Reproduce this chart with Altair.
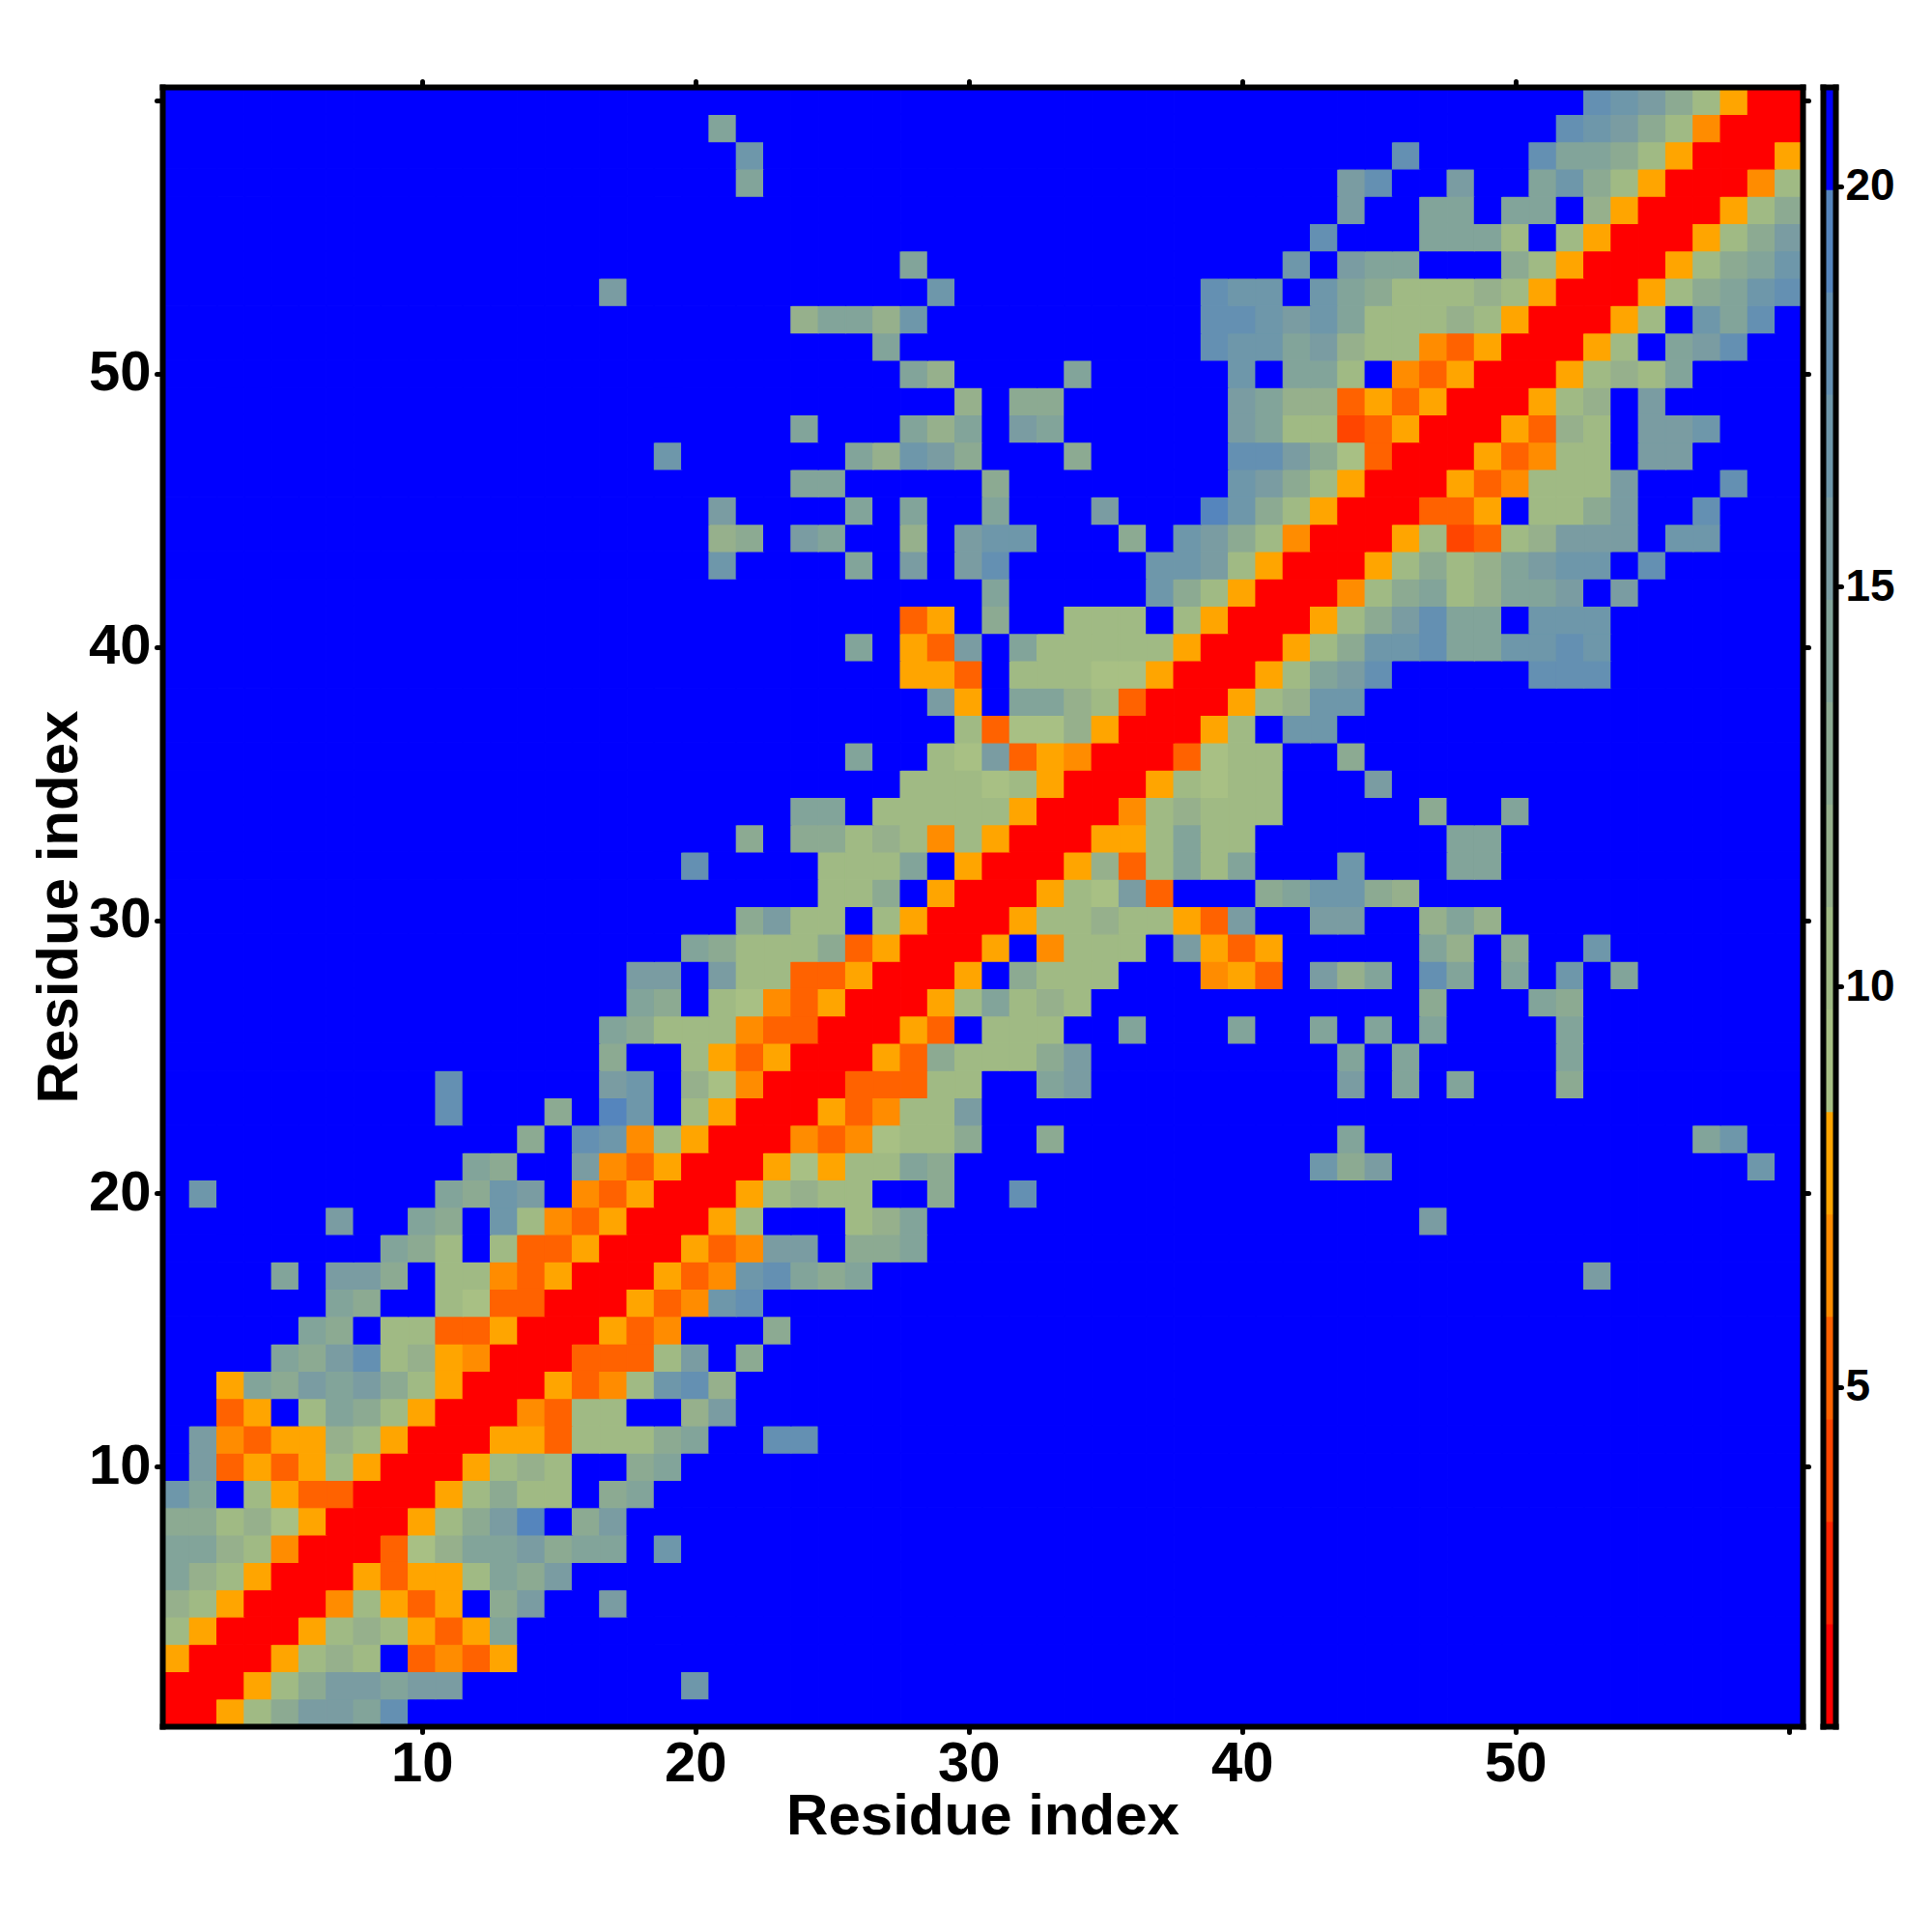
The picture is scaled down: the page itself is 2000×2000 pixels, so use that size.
import altair as alt
import pandas as pd

N = 60
ROWS = [
    {1: "rra246658"},
    {1: "rrra2466566", 20: "7"},
    {1: "arrra232.onoa"},
    {1: "2arrra232aoa5"},
    {1: "32arrrn2aoa.46", 17: "6"},
    {1: "532arrraoaa2546"},
    {1: "5532nrrro13556455.7"},
    {1: "44231arrra2469.46"},
    {1: "75.2aoorrra2422.45"},
    {1: ".6oaoa2arrra232..45"},
    {1: ".6noaa32arrraao22245..88"},
    {1: "..oa.2542arrrno22..36"},
    {1: "..a5465642arrraon2783"},
    {5: "546823anrrrooo26.4"},
    {6: "54.22ooarrraon...4"},
    {7: "54..21oorrraon78"},
    {5: "5", 7: "664.22noarrraon78545", 53: "6"},
    {9: "542.2ooarrraon66.445"},
    {7: "6", 10: "54.72noarrra2...235", 47: "6"},
    {2: "7", 11: "5476.noarrra2322..4..8"},
    {12: "54..6noarrra1a2254", 43: "746", 59: "7"},
    {14: "4.87n2arrrnon1224..4", 44: "5", 57: "57"},
    {11: "8", 15: "4", 17: "97.2arrraon226"},
    {11: "8", 17: "67.31nrrrooo22..56", 44: "6", 46: "5", 48: "5", 52: "4"},
    {17: "4..2aoarrrao422246", 44: "5", 46: "5", 52: "5"},
    {17: "54222noorrrao.222..5", 40: "5", 43: "5", 45: "5", 47: "5", 52: "5"},
    {18: "54.21noarrra25232", 47: "4", 51: "54"},
    {18: "66.622ooarrra.4222", 39: "nao", 43: "635", 47: "85", 50: "5", 52: "7", 54: "5"},
    {20: "542224oarrra.n222", 38: "6aoa", 47: "53", 50: "4", 53: "7"},
    {22: "4622.2arrra22322ao6..66..353"},
    {25: "224.arrra216o...457743"},
    {20: "8", 25: "2225.arrra3o2525...7...55"},
    {22: "4", 24: "44232n2arrraa2522", 48: "55"},
    {24: "55.22222arrrn23222", 47: "4", 50: "5"},
    {28: "22212arrra2122", 45: "6"},
    {26: "5", 29: "216oanrrro122..4"},
    {30: "2o113arrra2.77"},
    {29: "6a.5532orrra2377"},
    {28: "aao.22211arrra2568", 51: "888"},
    {26: "5", 28: "ao6.522222arrra24778557787"},
    {28: "oa.4..222.2arrra246855.777"},
    {31: "5", 37: "742arrrn24523556.6"},
    {21: "7", 26: "5", 28: "6", 30: "68", 37: "7762arrra24235677.8"},
    {21: "34", 24: "65", 28: "3", 30: "677", 36: "4", 38: "7642nrrra2xo23666.77"},
    {21: "6", 26: "5", 28: "5", 31: "5", 35: "6", 39: "9742arrrooa.2246..8"},
    {24: "55", 31: "4", 40: "7642arrraon2226...8"},
    {19: "7", 26: "53764", 34: "4", 40: "88641orrraon22.66"},
    {24: "5", 28: "535", 32: "65", 40: "6522xoarrrao32.667"},
    {30: "3", 32: "44", 40: "6533oaoarrra23.6"},
    {28: "53", 34: "5", 40: "7.552.noarrra2325"},
    {27: "5", 39: "87756322noarrra2.568"},
    {24: "35537", 39: "88767522232arrra2.758"},
    {17: "6", 29: "7", 39: "877.75422232arrra24578"},
    {28: "5", 42: "7.655...42arrra2457"},
    {43: "8...5552.2arrra246"},
    {44: "6", 47: "55.55.3arrra24"},
    {22: "5", 44: "68", 48: "6", 51: "5742arrrn2"},
    {22: "7", 46: "8", 51: "85542arrra"},
    {21: "5", 52: "87642nrrr"},
    {53: "87642arr"},
]

# distance bins of the colour key, bottom to top
BIN_SYMBOLS = list("r+xona123456789.")
BIN_EDGES = [0.76, 2.04, 3.32, 4.60, 5.88, 7.16, 8.44, 9.72, 11.00, 12.28,
             13.56, 14.84, 16.12, 17.40, 18.68, 19.96, 21.24]
BIN_COLORS = ["#ff0000", "#ff2400", "#ff4500", "#ff6200", "#ff8c00", "#ffa500",
              "#a8c084", "#a0ba84", "#96b08c", "#8caa92", "#82a49a", "#7a9ca2",
              "#6e97aa", "#6490b2", "#5585bd", "#0000ff"]
THRESHOLDS = BIN_EDGES[1:-1]
TICKS_MAIN = [10, 20, 30, 40, 50, 60]
TICKS_TOP = [10, 20, 30, 40, 50]
TICKS_KEY = [5, 10, 15, 20]

FONT = "Liberation Sans"
mid = {s: (BIN_EDGES[i] + BIN_EDGES[i + 1]) / 2 for i, s in enumerate(BIN_SYMBOLS)}

records = []
for r, segs in enumerate(ROWS, start=1):
    line = ["."] * N
    for start, text in segs.items():
        for j, ch in enumerate(text):
            line[start - 1 + j] = ch
    for c, ch in enumerate(line, start=1):
        records.append({"x0": c - 0.5, "x1": c + 0.5, "y0": r - 0.5, "y1": r + 0.5, "v": mid[ch]})
df = pd.DataFrame(records)

key = pd.DataFrame({"a": 0, "b": 1, "lo": BIN_EDGES[:-1], "hi": BIN_EDGES[1:],
                    "v": [mid[s] for s in BIN_SYMBOLS]})

color_scale = alt.Scale(type="threshold", domain=THRESHOLDS, range=BIN_COLORS)
SIDE = 1698
TOP_H = 1697
dom = alt.Scale(domain=[0.5, 60.5], nice=False, zero=False)

common = dict(domain=True, domainColor="black", domainWidth=6, domainCap="square",
              tickColor="black", tickWidth=5, tickSize=6, tickCap="round", grid=False,
              zindex=1, labelColor="black", labelFont=FONT, labelFontWeight="bold",
              titleFont=FONT, titleFontWeight="bold", titleColor="black", labelOverlap=False)
lab_expr = "datum.value >= 60 ? '' : datum.label"

cell = alt.Chart(df).mark_rect(strokeWidth=1.2)
c_enc = alt.Color("v:Q", scale=color_scale, legend=None)
s_enc = alt.Stroke("v:Q", scale=color_scale, legend=None)

main_a = cell.encode(
    x=alt.X("x0:Q", scale=dom, axis=alt.Axis(values=TICKS_MAIN, orient="bottom", title="Residue index",
                                             labelFontSize=58, titleFontSize=60, labelPadding=4,
                                             titlePadding=-4, labelExpr=lab_expr, **common)),
    x2="x1:Q",
    y=alt.Y("y0:Q", scale=dom, axis=alt.Axis(values=TICKS_MAIN, orient="left", title="Residue index",
                                             labelFontSize=58, titleFontSize=60, labelPadding=6,
                                             titlePadding=-1, labelExpr=lab_expr, **common)),
    y2="y1:Q", color=c_enc, stroke=s_enc,
)
main_b = alt.Chart(df).mark_rect(opacity=0).encode(
    x=alt.X("x0:Q", scale=dom, axis=alt.Axis(values=TICKS_TOP, orient="top", title=None, labels=False, **common)),
    x2="x1:Q",
    y=alt.Y("y0:Q", scale=dom, axis=alt.Axis(values=TICKS_MAIN, orient="right", title=None, labels=False, **common)),
    y2="y1:Q",
)
main = alt.layer(main_a, main_b).resolve_axis(x="independent", y="independent").properties(width=SIDE, height=TOP_H)

kx = alt.Scale(domain=[0, 1], nice=False, zero=False)
ky = alt.Scale(domain=[BIN_EDGES[0], BIN_EDGES[-1]], nice=False, zero=False)
bar_a = alt.Chart(key).mark_rect(strokeWidth=1.2).encode(
    x=alt.X("a:Q", scale=kx, axis=alt.Axis(values=[], orient="bottom", title=None, labels=False, ticks=False, **common)),
    x2="b:Q",
    y=alt.Y("lo:Q", scale=ky, axis=alt.Axis(values=TICKS_KEY, orient="right", title=None, labelFontSize=46,
                                            labelPadding=4, **common)),
    y2="hi:Q", color=c_enc, stroke=s_enc,
)
bar_b = alt.Chart(key).mark_rect(opacity=0).encode(
    x=alt.X("a:Q", scale=kx, axis=alt.Axis(values=[], orient="top", title=None, labels=False, ticks=False, **common)),
    x2="b:Q",
    y=alt.Y("lo:Q", scale=ky, axis=alt.Axis(values=[], orient="left", title=None, labels=False, ticks=False, **common)),
    y2="hi:Q",
)
bar = alt.layer(bar_a, bar_b).resolve_axis(x="independent", y="independent").properties(width=13, height=TOP_H)

chart = alt.hconcat(main, bar, spacing=10).resolve_scale(color="independent", stroke="independent").properties(
    padding={"left": 22, "top": 66, "right": 5, "bottom": 5}
).configure_view(stroke=None).configure(background="white")

chart.save("out.html", embed_options={"renderer": "svg", "actions": False})
